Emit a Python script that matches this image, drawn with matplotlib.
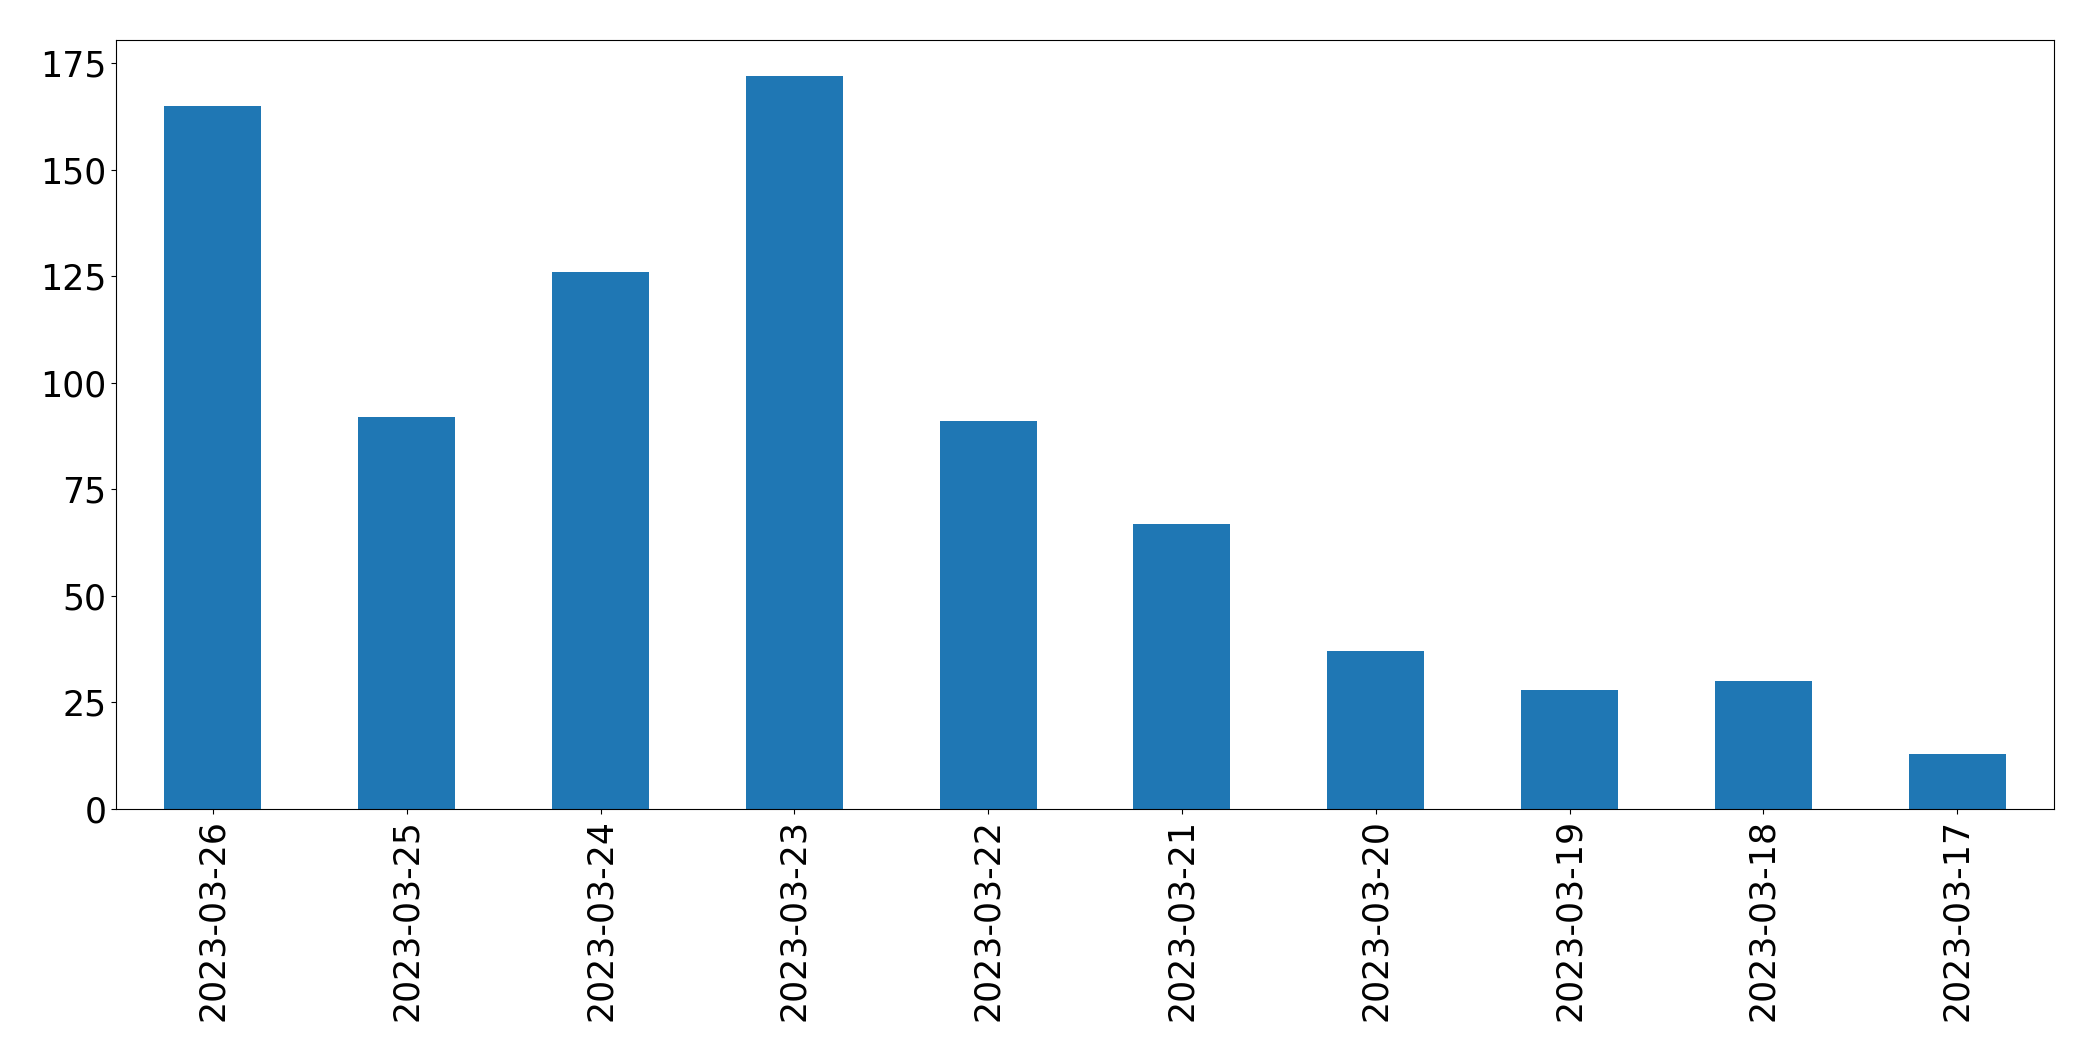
import matplotlib
matplotlib.use("Agg")
import matplotlib.pyplot as plt

dates = ["2023-03-26", "2023-03-25", "2023-03-24", "2023-03-23", "2023-03-22",
         "2023-03-21", "2023-03-20", "2023-03-19", "2023-03-18", "2023-03-17"]
counts = [165, 92, 126, 172, 91, 67, 37, 28, 30, 13]

fig = plt.figure(figsize=(20.93, 10.61), dpi=100)
ax = fig.add_axes([116/2093, 1-809/1061, (2054-116)/2093, (809-39.5)/1061])
x = list(range(len(dates)))
ax.bar(x, counts, width=0.5, color="#1f77b4")
ax.set_xlim(-0.5, len(dates) - 0.5)
ax.set_ylim(0, max(counts) * 1.05)
ax.set_xticks(x)
ax.set_xticklabels(dates, rotation=90)
ax.set_yticks([0, 25, 50, 75, 100, 125, 150, 175])
ax.tick_params(labelsize=25)
fig.savefig("out.png", dpi=100)
